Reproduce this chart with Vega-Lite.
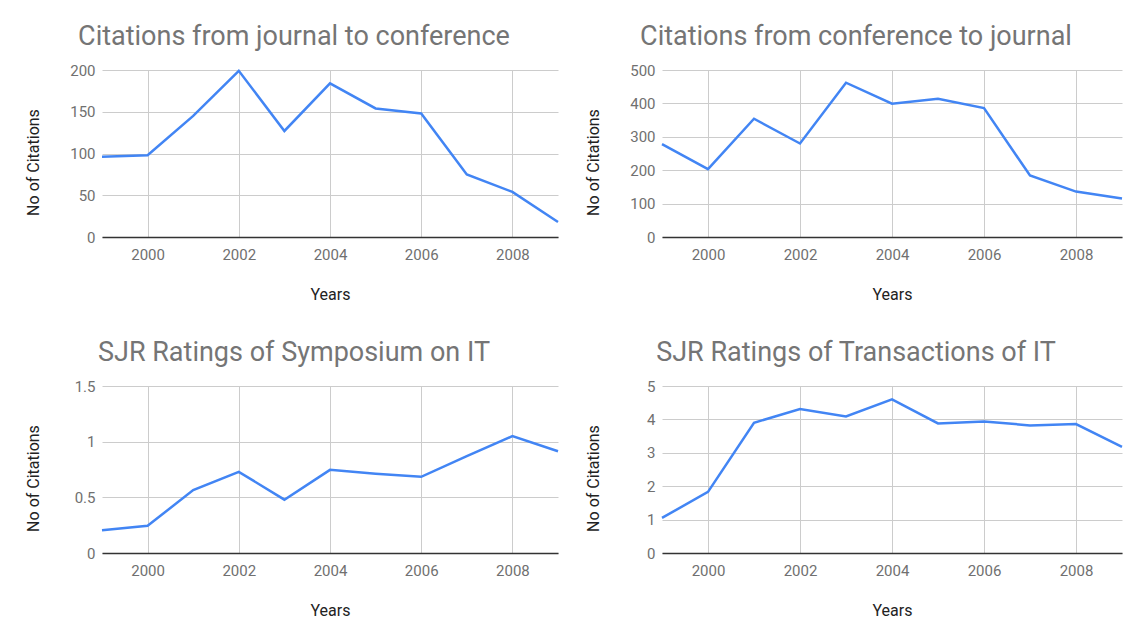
{
  "$schema": "https://vega.github.io/schema/vega-lite/v6.json",
  "background": "white",
  "padding": {"left": 25, "top": 23, "right": 0, "bottom": 0},
  "config": {
    "font": "Roboto",
    "view": {"stroke": null},
    "title": {"fontSize": 27, "fontWeight": "normal", "color": "#757575", "anchor": "middle", "frame": "bounds", "baseline": "alphabetic", "offset": 12},
    "axis": {"ticks": false, "tickSize": 0, "labelFontSize": 15, "labelColor": "#707070", "titleFontSize": 16, "titleFontWeight": "normal", "titleColor": "#222222", "gridColor": "#cccccc", "gridWidth": 1, "gridOpacity": 1},
    "axisX": {"domain": true, "domainColor": "#333333", "domainWidth": 1.5, "labelPadding": 10, "titlePadding": 24},
    "axisY": {"domain": false, "labelPadding": 7, "minExtent": 33, "maxExtent": 33, "titlePadding": 28, "titleY": 92}
  },
  "datasets": {
    "j2c": [
      {"year": 1999, "value": 96}, {"year": 2000, "value": 98}, {"year": 2001, "value": 145}, {"year": 2002, "value": 199},
      {"year": 2003, "value": 127}, {"year": 2004, "value": 184}, {"year": 2005, "value": 154}, {"year": 2006, "value": 148},
      {"year": 2007, "value": 75}, {"year": 2008, "value": 54}, {"year": 2009, "value": 18}
    ],
    "c2j": [
      {"year": 1999, "value": 278}, {"year": 2000, "value": 203}, {"year": 2001, "value": 354}, {"year": 2002, "value": 280},
      {"year": 2003, "value": 462}, {"year": 2004, "value": 399}, {"year": 2005, "value": 414}, {"year": 2006, "value": 386},
      {"year": 2007, "value": 184}, {"year": 2008, "value": 136}, {"year": 2009, "value": 115}
    ],
    "sym": [
      {"year": 1999, "value": 0.205}, {"year": 2000, "value": 0.244}, {"year": 2001, "value": 0.565}, {"year": 2002, "value": 0.729},
      {"year": 2003, "value": 0.479}, {"year": 2004, "value": 0.747}, {"year": 2005, "value": 0.711}, {"year": 2006, "value": 0.684},
      {"year": 2007, "value": 0.87}, {"year": 2008, "value": 1.05}, {"year": 2009, "value": 0.914}
    ],
    "trans": [
      {"year": 1999, "value": 1.05}, {"year": 2000, "value": 1.83}, {"year": 2001, "value": 3.9}, {"year": 2002, "value": 4.31},
      {"year": 2003, "value": 4.09}, {"year": 2004, "value": 4.6}, {"year": 2005, "value": 3.88}, {"year": 2006, "value": 3.94},
      {"year": 2007, "value": 3.82}, {"year": 2008, "value": 3.86}, {"year": 2009, "value": 3.18}
    ]
  },
  "spacing": 37,
  "vconcat": [
    {
      "spacing": 22,
      "hconcat": [
        {
          "title": "Citations from journal to conference",
          "width": 456, "height": 167,
          "data": {"name": "j2c"},
          "mark": {"type": "line", "color": "#4285f4", "strokeWidth": 2.5},
          "encoding": {
            "x": {"field": "year", "type": "quantitative", "scale": {"domain": [1999, 2009], "nice": false, "zero": false}, "axis": {"values": [2000, 2002, 2004, 2006, 2008], "format": "d", "title": "Years"}},
            "y": {"field": "value", "type": "quantitative", "scale": {"domain": [0, 200], "nice": false}, "axis": {"values": [0, 50, 100, 150, 200], "format": "~r", "title": "No of Citations"}}
          }
        },
        {
          "title": "Citations from conference to journal",
          "width": 460, "height": 167,
          "data": {"name": "c2j"},
          "mark": {"type": "line", "color": "#4285f4", "strokeWidth": 2.5},
          "encoding": {
            "x": {"field": "year", "type": "quantitative", "scale": {"domain": [1999, 2009], "nice": false, "zero": false}, "axis": {"values": [2000, 2002, 2004, 2006, 2008], "format": "d", "title": "Years"}},
            "y": {"field": "value", "type": "quantitative", "scale": {"domain": [0, 500], "nice": false}, "axis": {"values": [0, 100, 200, 300, 400, 500], "format": "~r", "title": "No of Citations"}}
          }
        }
      ]
    },
    {
      "spacing": 22,
      "hconcat": [
        {
          "title": "SJR Ratings of Symposium on IT",
          "width": 456, "height": 167,
          "data": {"name": "sym"},
          "mark": {"type": "line", "color": "#4285f4", "strokeWidth": 2.5},
          "encoding": {
            "x": {"field": "year", "type": "quantitative", "scale": {"domain": [1999, 2009], "nice": false, "zero": false}, "axis": {"values": [2000, 2002, 2004, 2006, 2008], "format": "d", "title": "Years"}},
            "y": {"field": "value", "type": "quantitative", "scale": {"domain": [0, 1.5], "nice": false}, "axis": {"values": [0, 0.5, 1, 1.5], "format": "~r", "title": "No of Citations"}}
          }
        },
        {
          "title": "SJR Ratings of Transactions of IT",
          "width": 460, "height": 167,
          "data": {"name": "trans"},
          "mark": {"type": "line", "color": "#4285f4", "strokeWidth": 2.5},
          "encoding": {
            "x": {"field": "year", "type": "quantitative", "scale": {"domain": [1999, 2009], "nice": false, "zero": false}, "axis": {"values": [2000, 2002, 2004, 2006, 2008], "format": "d", "title": "Years"}},
            "y": {"field": "value", "type": "quantitative", "scale": {"domain": [0, 5], "nice": false}, "axis": {"values": [0, 1, 2, 3, 4, 5], "format": "~r", "title": "No of Citations"}}
          }
        }
      ]
    }
  ]
}
